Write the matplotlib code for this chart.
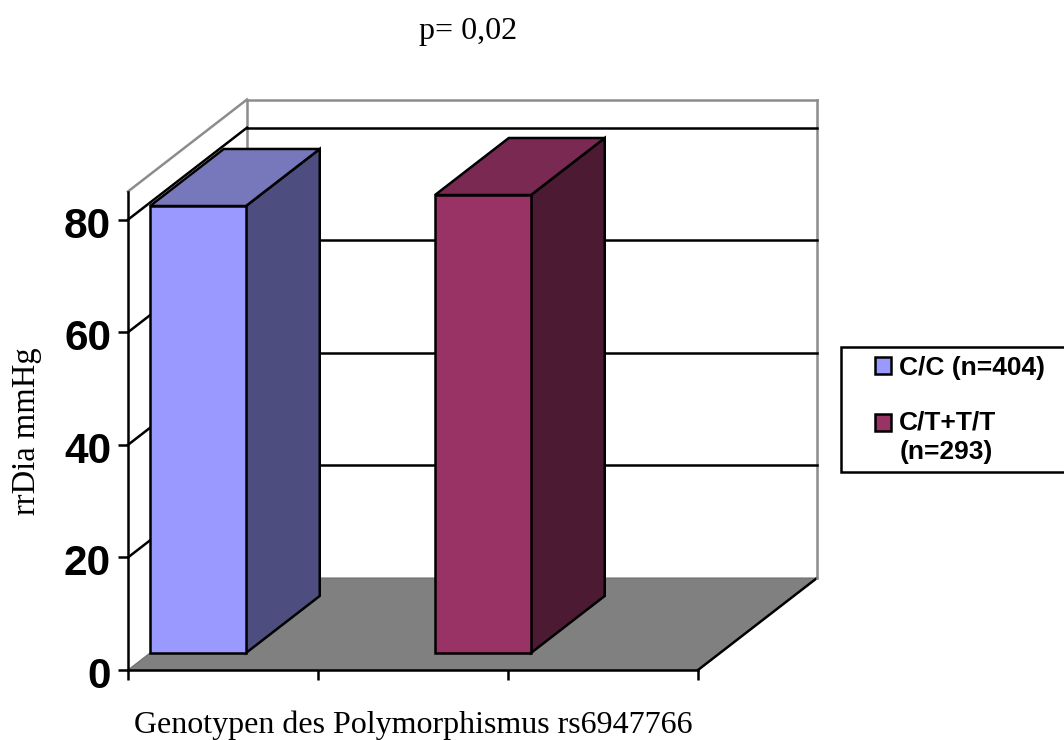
import matplotlib
matplotlib.use("Agg")
import matplotlib.pyplot as plt
from matplotlib.legend_handler import HandlerPatch
from matplotlib.patches import Polygon, Rectangle
from matplotlib.transforms import ScaledTranslation

series_labels = ["C/C (n=404)", "C/T+T/T\n(n=293)"]
values = [79.4, 81.35]
front_colors = ["#9999FF", "#993366"]
top_colors = ["#7777BB", "#7A2952"]
side_colors = ["#4D4D80", "#4D1A33"]
y_ticks = [0, 20, 40, 60, 80]
x_ticks = [0, 1, 2, 3]

W, H = 1064, 740
LW = 1.8
fig = plt.figure(figsize=(W / 100, H / 100), dpi=100, facecolor="white")
ax = fig.add_axes([128 / W, 1 - 670 / H, 570 / W, 478.5 / H], facecolor="none")
ax.set_xlim(0, 3)
ax.set_ylim(0, 85)

# depth of the 3D box, in data units
DX = 119 / 190
DY = 92 / 5.63
BAR_W = 0.505
BAR_LEFT = [0.0, 1.5]
D0, D1 = 0.185, 0.805


def P(x, y, d=0.0):
    return (x + d * DX, y + d * DY)


def poly(pts, **kw):
    ax.add_patch(Polygon(pts, closed=True, clip_on=False, **kw))


def seg(a, b, color="black", lw=LW, z=2):
    ax.plot([a[0], b[0]], [a[1], b[1]], color=color, lw=lw, clip_on=False,
            zorder=z, solid_capstyle="projecting")


GREY = "#8C8C8C"
# floor
poly([P(0, 0), P(3, 0), P(3, 0, 1), P(0, 0, 1)], facecolor="#808080",
     edgecolor="#6E6E6E", lw=0.8, zorder=1)
seg(P(3, 0), P(3, 0, 1), "black", LW, 1.5)

# walls
seg(P(0, 85), P(0, 85, 1), GREY)
seg(P(0, 85, 1), P(3, 85, 1), GREY)
seg(P(3, 85, 1), P(3, 0, 1), GREY)
seg(P(0, 85, 1), P(0, 0, 1), GREY)

# grid lines
for t in y_ticks[1:]:
    seg(P(0, t), P(0, t, 1))
    seg(P(0, t, 1), P(3, t, 1))

# bars
for left, v, fc, tc, sc, lab in zip(BAR_LEFT, values, front_colors, top_colors,
                                    side_colors, series_labels):
    r = left + BAR_W
    e = dict(edgecolor="black", lw=LW, joinstyle="miter", zorder=3)
    poly([P(r, 0, D0), P(r, 0, D1), P(r, v, D1), P(r, v, D0)], facecolor=sc, **e)
    poly([P(left, v, D0), P(r, v, D0), P(r, v, D1), P(left, v, D1)], facecolor=tc, **e)
    poly([P(left, 0, D0), P(r, 0, D0), P(r, v, D0), P(left, v, D0)], facecolor=fc, **e)

# axes
for s in ("top", "right"):
    ax.spines[s].set_visible(False)
for s in ("left", "bottom"):
    ax.spines[s].set_linewidth(LW)
ax.set_xticks(x_ticks, [""] * len(x_ticks))
ax.set_yticks(y_ticks)
ax.tick_params(axis="both", direction="out", length=7.2, width=LW)
ax.tick_params(axis="y", pad=5)
nudge = ScaledTranslation(0, -2.5 / 100, fig.dpi_scale_trans)
for t in ax.get_yticklabels():
    t.set_fontfamily("Liberation Sans")
    t.set_fontweight("bold")
    t.set_fontsize(30.5)
    t.set_transform(t.get_transform() + nudge)

serif = "Liberation Serif"
ax.set_xlabel("Genotypen des Polymorphismus rs6947766", family=serif, fontsize=23, labelpad=18.5)
ax.set_ylabel("rrDia mmHg", family=serif, fontsize=23.5, labelpad=16)
ax.set_title("p= 0,02", family=serif, fontsize=23, x=0.597, pad=109.5)

# legend
fig.add_artist(Rectangle((841 / W, 1 - 472 / H), 240 / W, 125 / H, transform=fig.transFigure,
                         facecolor="white", edgecolor="black", lw=LW))


def make_handle(legend, orig_handle, xdescent, ydescent, width, height, fontsize):
    # the wrapped label keeps its square beside its first line
    shift = 0.55 * fontsize if orig_handle.get_label() == "wrapped" else 0
    return Rectangle((-xdescent, -ydescent + shift), width, height)


handles = [Rectangle((0, 0), 1, 1, facecolor=c, edgecolor="black", lw=LW,
                     label="wrapped" if "\n" in s else "single")
           for c, s in zip(front_colors, series_labels)]
leg = fig.legend(handles, series_labels, loc="upper left",
                 bbox_to_anchor=(875 / W, 1 - 356 / H), bbox_transform=fig.transFigure,
                 frameon=False, borderpad=0, borderaxespad=0, handlelength=0.62, handleheight=0.62,
                 handletextpad=0.3, labelspacing=1.15,
                 handler_map={Rectangle: HandlerPatch(patch_func=make_handle)},
                 prop=dict(family="Liberation Sans", weight="bold", size=19))
for t in leg.get_texts():
    t.set_linespacing(1.3)

fig.savefig("out.png", dpi=100)
